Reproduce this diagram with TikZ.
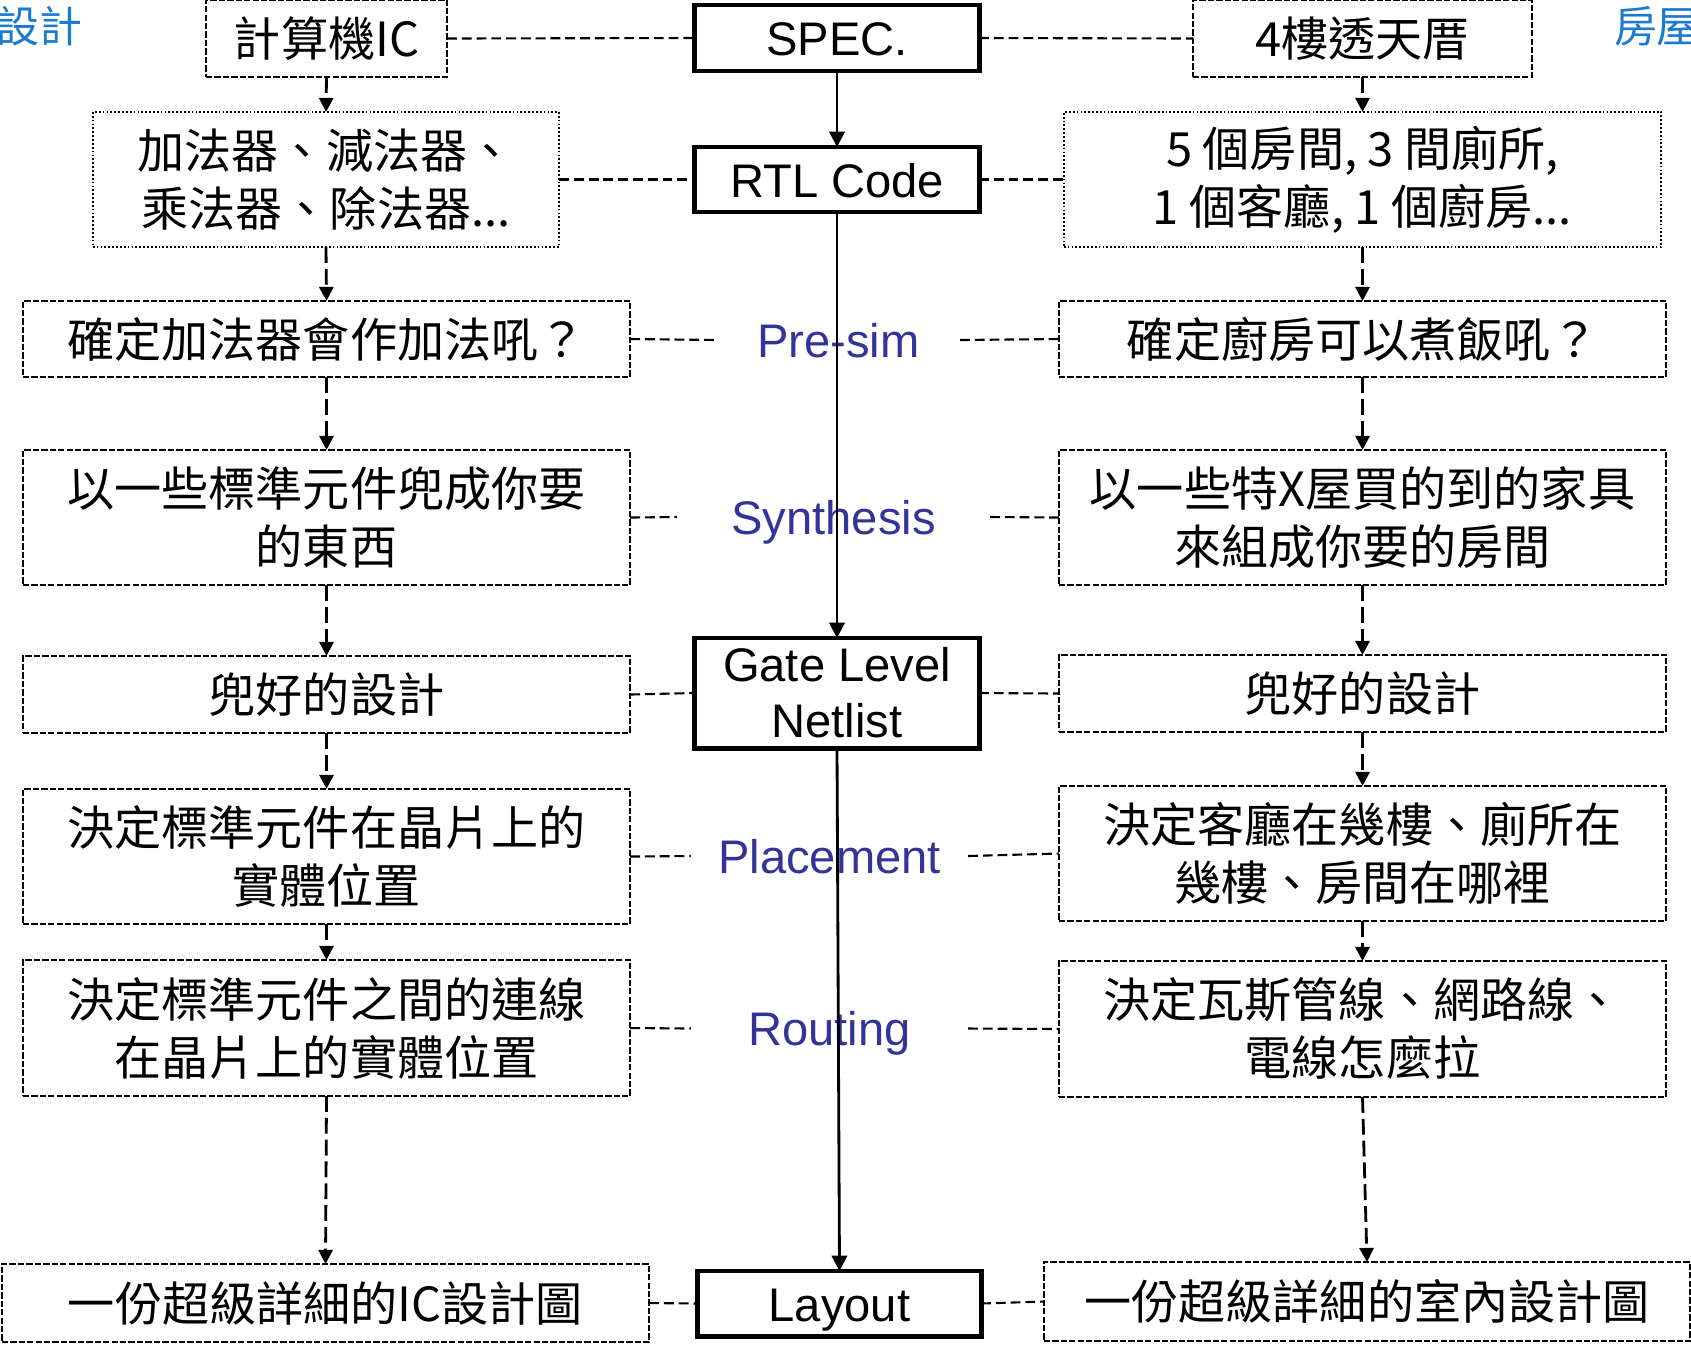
\documentclass[tikz,border=0pt]{standalone}
\usepackage{fontspec}
\setmainfont{Liberation Sans}
\newfontfamily\cjk{Noto Sans CJK TC}
\usetikzlibrary{arrows.meta}
\definecolor{lblue}{HTML}{333399}
\definecolor{cblue}{HTML}{1A7AD0}
\tikzset{
  every node/.style={inner sep=0pt, outer sep=0pt, align=center},
  cjktext/.style={font=\cjk\fontsize{13.4pt}{16.5pt}\selectfont},
  dbox/.style={cjktext, draw, line width=0.6pt, dash pattern=on 1.8pt off 0.6pt},
  dotbox/.style={cjktext, draw, line width=0.6pt, dash pattern=on 0.5pt off 0.6pt},
  mbox/.style={draw, line width=1.4pt, minimum width=2.84cm, font=\fontsize{13.4pt}{15.9pt}\selectfont},
  mone/.style={mbox, text height=0.35cm, text depth=0pt},
  lbl/.style={text=lblue, text height=0.34cm, text depth=0pt, font=\fontsize{13.4pt}{16pt}\selectfont},
  corner/.style={text=cblue, font=\cjk\fontsize{12.2pt}{14pt}\selectfont},
  hlink/.style={line width=0.6pt, dash pattern=on 2.8pt off 1.4pt},
  vlink/.style={line width=0.8pt, dash pattern=on 4.5pt off 1.7pt, -{Triangle[length=4pt,width=4pt]}},
  slink/.style={line width=0.8pt, -{Triangle[length=4.4pt,width=4.4pt]}},
}
\begin{document}
\begin{tikzpicture}[x=0.01cm, y=-0.01cm]
\useasboundingbox (0,0) rectangle (1691,1347);

% corner labels
\node[corner, anchor=east] (cl) at (82,26) {設計};
\node[corner, anchor=west] (cr) at (1614,26) {房屋};

% centre column
\node[mone, minimum height=0.66cm] (spec) at (837,38) {SPEC.};
\node[mone, minimum height=0.65cm] (rtl) at (837,179.5) {RTL Code};
\node[mbox, minimum height=1.10cm] (net) at (837,693) {Gate Level\\Netlist};
\node[mone, minimum width=2.83cm, minimum height=0.65cm] (lay) at (839.5,1303.5) {Layout};

% step labels
\node[lbl, minimum width=2.43cm] (pre) at (838.5,340) {Pre-sim};
\node[lbl, minimum width=3.13cm] (syn) at (833.5,517) {Synthesis};
\node[lbl, minimum width=2.77cm] (pla) at (829.5,856) {Placement};
\node[lbl, minimum width=2.77cm] (rou) at (829.5,1028.5) {Routing};

% left column
\node[dbox, minimum width=2.41cm, minimum height=0.77cm] (L1) at (326.5,38.5) {計算機IC};
\node[dotbox, minimum width=4.66cm, minimum height=1.35cm] (L2) at (326,179.5) {加法器、減法器、\\乘法器、除法器...};
\node[dbox, minimum width=6.07cm, minimum height=0.76cm] (L3) at (326.5,339) {確定加法器會作加法吼？};
\node[dbox, minimum width=6.07cm, minimum height=1.35cm] (L4) at (326.5,517.5) {以一些標準元件兜成你要\\的東西};
\node[dbox, minimum width=6.07cm, minimum height=0.77cm] (L5) at (326.5,694.5) {兜好的設計};
\node[dbox, minimum width=6.07cm, minimum height=1.35cm] (L6) at (326.5,856.5) {決定標準元件在晶片上的\\實體位置};
\node[dbox, minimum width=6.07cm, minimum height=1.36cm] (L7) at (326.5,1028) {決定標準元件之間的連線\\在晶片上的實體位置};
\node[dbox, minimum width=6.47cm, minimum height=0.78cm] (L8) at (325.5,1303) {一份超級詳細的IC設計圖};

% right column
\node[dbox, minimum width=3.39cm, minimum height=0.77cm] (R1) at (1362.5,38.5) {4樓透天厝};
\node[dotbox, minimum width=5.97cm, minimum height=1.35cm] (R2) at (1362.5,179.5) {5 個房間, 3 間廁所,\\1 個客廳, 1 個廚房...};
\node[dbox, minimum width=6.07cm, minimum height=0.76cm] (R3) at (1362.5,339) {確定廚房可以煮飯吼？};
\node[dbox, minimum width=6.07cm, minimum height=1.35cm] (R4) at (1362.5,517.5) {以一些特X屋買的到的家具\\來組成你要的房間};
\node[dbox, minimum width=6.07cm, minimum height=0.77cm] (R5) at (1362.5,693.5) {兜好的設計};
\node[dbox, minimum width=6.07cm, minimum height=1.35cm] (R6) at (1362.5,853.5) {決定客廳在幾樓、廁所在\\幾樓、房間在哪裡};
\node[dbox, minimum width=6.07cm, minimum height=1.36cm] (R7) at (1362.5,1029) {決定瓦斯管線、網路線、\\電線怎麼拉};
\node[dbox, minimum width=6.46cm, minimum height=0.79cm] (R8) at (1367,1301.5) {一份超級詳細的室內設計圖};

% horizontal dashed links
\draw[hlink] (L1.east) -- (spec.west);
\draw[hlink] (spec.east) -- (R1.west);
\draw[hlink] (L2.east) -- (rtl.west);
\draw[hlink] (rtl.east) -- (R2.west);
\draw[hlink] (L3.east) -- (pre.west);
\draw[hlink] (pre.east) -- (R3.west);
\draw[hlink] (L4.east) -- (syn.west);
\draw[hlink] (syn.east) -- (R4.west);
\draw[hlink] (L5.east) -- (net.west);
\draw[hlink] (net.east) -- (R5.west);
\draw[hlink] (L6.east) -- (pla.west);
\draw[hlink] (pla.east) -- (R6.west);
\draw[hlink] (L7.east) -- (rou.west);
\draw[hlink] (rou.east) -- (R7.west);
\draw[hlink] (L8.east) -- (lay.west);
\draw[hlink] (lay.east) -- (R8.west);

% vertical dashed arrows
\foreach \a/\b in {L1/L2,L2/L3,L3/L4,L4/L5,L5/L6,L6/L7,L7/L8,R1/R2,R2/R3,R3/R4,R4/R5,R5/R6,R6/R7,R7/R8}
  \draw[vlink] (\a.south) -- (\b.north);

% solid centre arrows
\draw[slink] (spec.south) -- (rtl.north);
\draw[slink] (rtl.south) -- (net.north);
\draw[slink] (net.south) -- (lay.north);
\end{tikzpicture}
\end{document}
